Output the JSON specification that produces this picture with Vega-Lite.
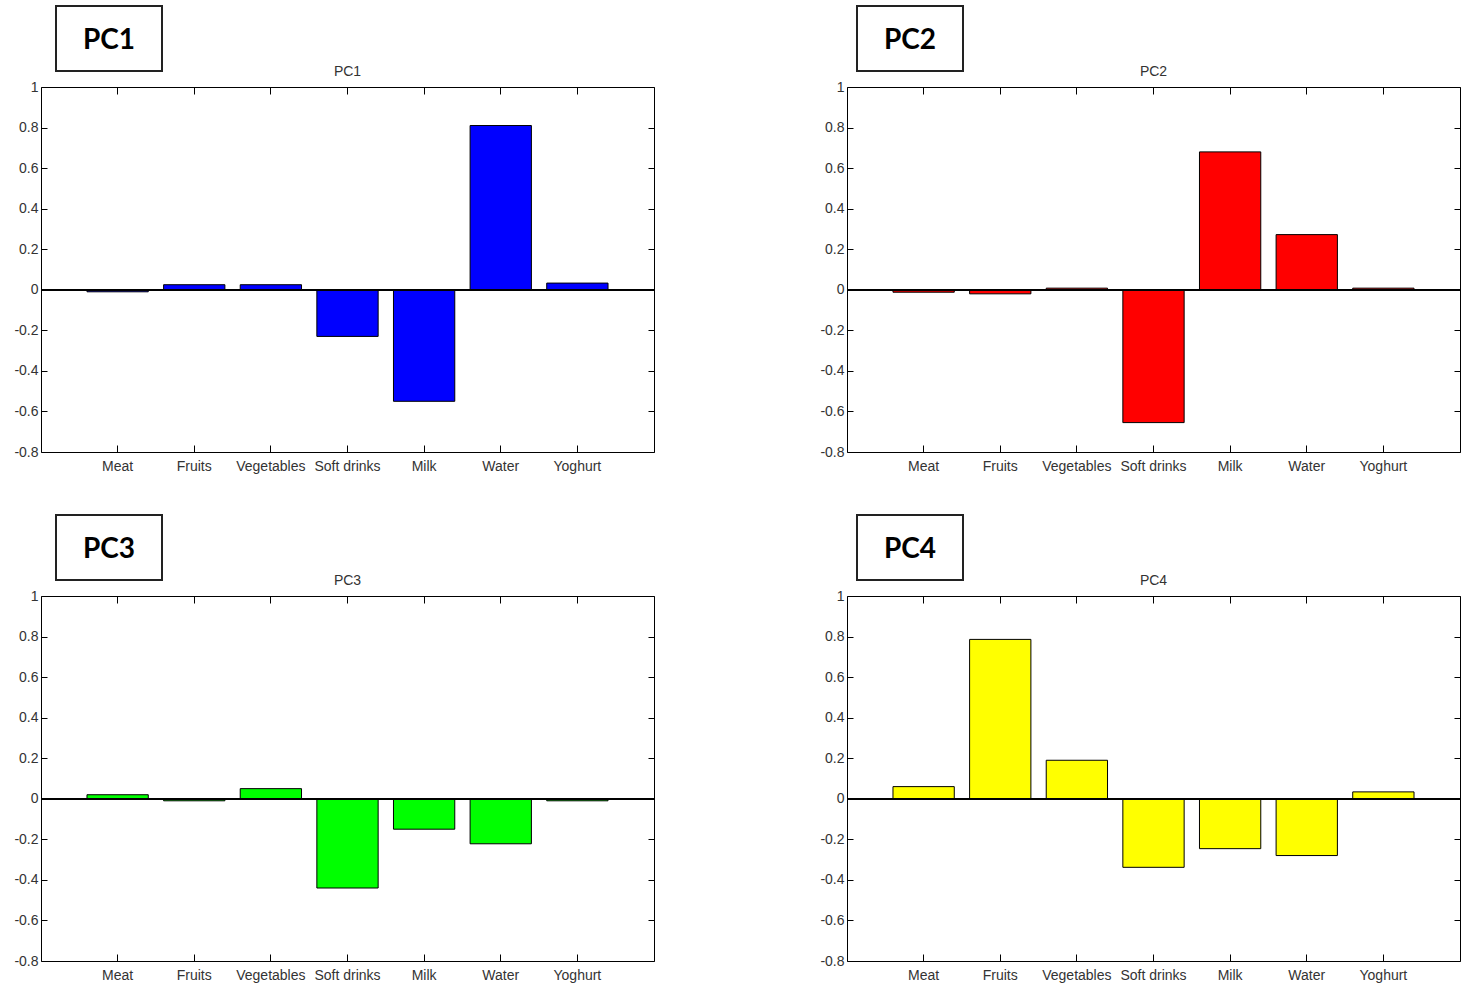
{
  "$schema": "https://vega.github.io/schema/vega-lite/v6.json",
  "padding": {"left": 13, "top": 5, "right": 0, "bottom": 5},
  "background": "white",
  "data": {"values": [
    {"pc": "PC1", "item": "Meat", "value": -0.01},
    {"pc": "PC1", "item": "Fruits", "value": 0.025},
    {"pc": "PC1", "item": "Vegetables", "value": 0.025},
    {"pc": "PC1", "item": "Soft drinks", "value": -0.23},
    {"pc": "PC1", "item": "Milk", "value": -0.55},
    {"pc": "PC1", "item": "Water", "value": 0.81},
    {"pc": "PC1", "item": "Yoghurt", "value": 0.033},
    {"pc": "PC2", "item": "Meat", "value": -0.012},
    {"pc": "PC2", "item": "Fruits", "value": -0.02},
    {"pc": "PC2", "item": "Vegetables", "value": 0.008},
    {"pc": "PC2", "item": "Soft drinks", "value": -0.655},
    {"pc": "PC2", "item": "Milk", "value": 0.68},
    {"pc": "PC2", "item": "Water", "value": 0.272},
    {"pc": "PC2", "item": "Yoghurt", "value": 0.008},
    {"pc": "PC3", "item": "Meat", "value": 0.02},
    {"pc": "PC3", "item": "Fruits", "value": -0.01},
    {"pc": "PC3", "item": "Vegetables", "value": 0.05},
    {"pc": "PC3", "item": "Soft drinks", "value": -0.44},
    {"pc": "PC3", "item": "Milk", "value": -0.15},
    {"pc": "PC3", "item": "Water", "value": -0.222},
    {"pc": "PC3", "item": "Yoghurt", "value": -0.01},
    {"pc": "PC4", "item": "Meat", "value": 0.06},
    {"pc": "PC4", "item": "Fruits", "value": 0.786},
    {"pc": "PC4", "item": "Vegetables", "value": 0.19},
    {"pc": "PC4", "item": "Soft drinks", "value": -0.338},
    {"pc": "PC4", "item": "Milk", "value": -0.246},
    {"pc": "PC4", "item": "Water", "value": -0.28},
    {"pc": "PC4", "item": "Yoghurt", "value": 0.034}
  ]},
  "config": {
    "view": {"stroke": "black", "strokeWidth": 1},
    "font": "Liberation Sans",
    "axis": {"grid": false, "domain": false, "tickColor": "black", "tickWidth": 1, "labelFont": "Liberation Sans", "labelFontSize": 14, "labelColor": "#333", "labelFlush": false, "labelBound": false, "labelOverlap": false},
    "title": {"font": "Liberation Sans", "fontSize": 14, "fontWeight": "normal", "color": "#333", "offset": 1, "baseline": "bottom", "anchor": "middle"}
  },
  "spacing": 40,
  "vconcat": [
    {"hconcat": [
      {"vconcat": [
        {"hconcat": [
          {"width": 13.5, "height": 65, "view": {"stroke": null}, "transform": [{"filter": "datum.pc == 'PC1' && datum.item == 'Meat'"}], "mark": {"type": "text", "text": ""}, "encoding": {}},
          {"width": 106, "height": 65, "view": {"stroke": "#222", "strokeWidth": 2}, "transform": [{"filter": "datum.pc == 'PC1' && datum.item == 'Meat'"}], "mark": {"type": "text", "font": "Lato", "fontSize": 28, "fontWeight": "bold", "color": "black", "dy": 2}, "encoding": {"text": {"field": "pc"}}}
        ], "spacing": 0},
        {"width": 613, "height": 365, "title": {"text": "PC1"},
         "transform": [{"filter": {"field": "pc", "equal": "PC1"}}],
         "layer": [
           {"mark": {"type": "bar", "fill": "#0000FF", "stroke": "black", "strokeWidth": 1},
            "encoding": {
              "x": {"field": "item", "type": "nominal", "scale": {"domain": ["Meat", "Fruits", "Vegetables", "Soft drinks", "Milk", "Water", "Yoghurt"], "paddingInner": 0.2, "paddingOuter": 0.6}, "axis": {"orient": "bottom", "title": null, "labelAngle": 0, "tickSize": -7, "labelPadding": 14}},
              "y": {"field": "value", "type": "quantitative", "scale": {"domain": [-0.8, 1], "nice": false, "zero": false}, "axis": {"orient": "left", "title": null, "values": [-0.8, -0.6, -0.4, -0.2, 0, 0.2, 0.4, 0.6, 0.8, 1], "tickSize": -6, "labelPadding": 9, "labelExpr": "(datum.value < 0 ? '-' : '') + format(abs(datum.value), '~g')"}}
            }},
           {"mark": {"type": "rule", "color": "black", "strokeWidth": 1.2}, "encoding": {"y": {"datum": 0, "axis": null}}},
           {"mark": {"type": "text", "text": ""},
            "encoding": {
              "x": {"field": "item", "type": "nominal", "axis": {"orient": "top", "labels": false, "title": null, "tickSize": -7}},
              "y": {"field": "value", "type": "quantitative", "axis": {"orient": "right", "labels": false, "title": null, "values": [-0.8, -0.6, -0.4, -0.2, 0, 0.2, 0.4, 0.6, 0.8, 1], "tickSize": -6}}
            }}
         ],
         "resolve": {"axis": {"x": "independent", "y": "independent"}}
        }
      ], "spacing": -8},
      {"vconcat": [
        {"hconcat": [
          {"width": 9, "height": 65, "view": {"stroke": null}, "transform": [{"filter": "datum.pc == 'PC2' && datum.item == 'Meat'"}], "mark": {"type": "text", "text": ""}, "encoding": {}},
          {"width": 106, "height": 65, "view": {"stroke": "#222", "strokeWidth": 2}, "transform": [{"filter": "datum.pc == 'PC2' && datum.item == 'Meat'"}], "mark": {"type": "text", "font": "Lato", "fontSize": 28, "fontWeight": "bold", "color": "black", "dy": 2}, "encoding": {"text": {"field": "pc"}}}
        ], "spacing": 0},
        {"width": 613, "height": 365, "title": {"text": "PC2"},
         "transform": [{"filter": {"field": "pc", "equal": "PC2"}}],
         "layer": [
           {"mark": {"type": "bar", "fill": "#FF0000", "stroke": "black", "strokeWidth": 1},
            "encoding": {
              "x": {"field": "item", "type": "nominal", "scale": {"domain": ["Meat", "Fruits", "Vegetables", "Soft drinks", "Milk", "Water", "Yoghurt"], "paddingInner": 0.2, "paddingOuter": 0.6}, "axis": {"orient": "bottom", "title": null, "labelAngle": 0, "tickSize": -7, "labelPadding": 14}},
              "y": {"field": "value", "type": "quantitative", "scale": {"domain": [-0.8, 1], "nice": false, "zero": false}, "axis": {"orient": "left", "title": null, "values": [-0.8, -0.6, -0.4, -0.2, 0, 0.2, 0.4, 0.6, 0.8, 1], "tickSize": -6, "labelPadding": 9, "labelExpr": "(datum.value < 0 ? '-' : '') + format(abs(datum.value), '~g')"}}
            }},
           {"mark": {"type": "rule", "color": "black", "strokeWidth": 1.2}, "encoding": {"y": {"datum": 0, "axis": null}}},
           {"mark": {"type": "text", "text": ""},
            "encoding": {
              "x": {"field": "item", "type": "nominal", "axis": {"orient": "top", "labels": false, "title": null, "tickSize": -7}},
              "y": {"field": "value", "type": "quantitative", "axis": {"orient": "right", "labels": false, "title": null, "values": [-0.8, -0.6, -0.4, -0.2, 0, 0.2, 0.4, 0.6, 0.8, 1], "tickSize": -6}}
            }}
         ],
         "resolve": {"axis": {"x": "independent", "y": "independent"}}
        }
      ], "spacing": -8}
    ], "spacing": 163},
    {"hconcat": [
      {"vconcat": [
        {"hconcat": [
          {"width": 13.5, "height": 65, "view": {"stroke": null}, "transform": [{"filter": "datum.pc == 'PC3' && datum.item == 'Meat'"}], "mark": {"type": "text", "text": ""}, "encoding": {}},
          {"width": 106, "height": 65, "view": {"stroke": "#222", "strokeWidth": 2}, "transform": [{"filter": "datum.pc == 'PC3' && datum.item == 'Meat'"}], "mark": {"type": "text", "font": "Lato", "fontSize": 28, "fontWeight": "bold", "color": "black", "dy": 2}, "encoding": {"text": {"field": "pc"}}}
        ], "spacing": 0},
        {"width": 613, "height": 365, "title": {"text": "PC3"},
         "transform": [{"filter": {"field": "pc", "equal": "PC3"}}],
         "layer": [
           {"mark": {"type": "bar", "fill": "#00FF00", "stroke": "black", "strokeWidth": 1},
            "encoding": {
              "x": {"field": "item", "type": "nominal", "scale": {"domain": ["Meat", "Fruits", "Vegetables", "Soft drinks", "Milk", "Water", "Yoghurt"], "paddingInner": 0.2, "paddingOuter": 0.6}, "axis": {"orient": "bottom", "title": null, "labelAngle": 0, "tickSize": -7, "labelPadding": 14}},
              "y": {"field": "value", "type": "quantitative", "scale": {"domain": [-0.8, 1], "nice": false, "zero": false}, "axis": {"orient": "left", "title": null, "values": [-0.8, -0.6, -0.4, -0.2, 0, 0.2, 0.4, 0.6, 0.8, 1], "tickSize": -6, "labelPadding": 9, "labelExpr": "(datum.value < 0 ? '-' : '') + format(abs(datum.value), '~g')"}}
            }},
           {"mark": {"type": "rule", "color": "black", "strokeWidth": 1.2}, "encoding": {"y": {"datum": 0, "axis": null}}},
           {"mark": {"type": "text", "text": ""},
            "encoding": {
              "x": {"field": "item", "type": "nominal", "axis": {"orient": "top", "labels": false, "title": null, "tickSize": -7}},
              "y": {"field": "value", "type": "quantitative", "axis": {"orient": "right", "labels": false, "title": null, "values": [-0.8, -0.6, -0.4, -0.2, 0, 0.2, 0.4, 0.6, 0.8, 1], "tickSize": -6}}
            }}
         ],
         "resolve": {"axis": {"x": "independent", "y": "independent"}}
        }
      ], "spacing": -8},
      {"vconcat": [
        {"hconcat": [
          {"width": 9, "height": 65, "view": {"stroke": null}, "transform": [{"filter": "datum.pc == 'PC4' && datum.item == 'Meat'"}], "mark": {"type": "text", "text": ""}, "encoding": {}},
          {"width": 106, "height": 65, "view": {"stroke": "#222", "strokeWidth": 2}, "transform": [{"filter": "datum.pc == 'PC4' && datum.item == 'Meat'"}], "mark": {"type": "text", "font": "Lato", "fontSize": 28, "fontWeight": "bold", "color": "black", "dy": 2}, "encoding": {"text": {"field": "pc"}}}
        ], "spacing": 0},
        {"width": 613, "height": 365, "title": {"text": "PC4"},
         "transform": [{"filter": {"field": "pc", "equal": "PC4"}}],
         "layer": [
           {"mark": {"type": "bar", "fill": "#FFFF00", "stroke": "black", "strokeWidth": 1},
            "encoding": {
              "x": {"field": "item", "type": "nominal", "scale": {"domain": ["Meat", "Fruits", "Vegetables", "Soft drinks", "Milk", "Water", "Yoghurt"], "paddingInner": 0.2, "paddingOuter": 0.6}, "axis": {"orient": "bottom", "title": null, "labelAngle": 0, "tickSize": -7, "labelPadding": 14}},
              "y": {"field": "value", "type": "quantitative", "scale": {"domain": [-0.8, 1], "nice": false, "zero": false}, "axis": {"orient": "left", "title": null, "values": [-0.8, -0.6, -0.4, -0.2, 0, 0.2, 0.4, 0.6, 0.8, 1], "tickSize": -6, "labelPadding": 9, "labelExpr": "(datum.value < 0 ? '-' : '') + format(abs(datum.value), '~g')"}}
            }},
           {"mark": {"type": "rule", "color": "black", "strokeWidth": 1.2}, "encoding": {"y": {"datum": 0, "axis": null}}},
           {"mark": {"type": "text", "text": ""},
            "encoding": {
              "x": {"field": "item", "type": "nominal", "axis": {"orient": "top", "labels": false, "title": null, "tickSize": -7}},
              "y": {"field": "value", "type": "quantitative", "axis": {"orient": "right", "labels": false, "title": null, "values": [-0.8, -0.6, -0.4, -0.2, 0, 0.2, 0.4, 0.6, 0.8, 1], "tickSize": -6}}
            }}
         ],
         "resolve": {"axis": {"x": "independent", "y": "independent"}}
        }
      ], "spacing": -8}
    ], "spacing": 163}
  ]
}
